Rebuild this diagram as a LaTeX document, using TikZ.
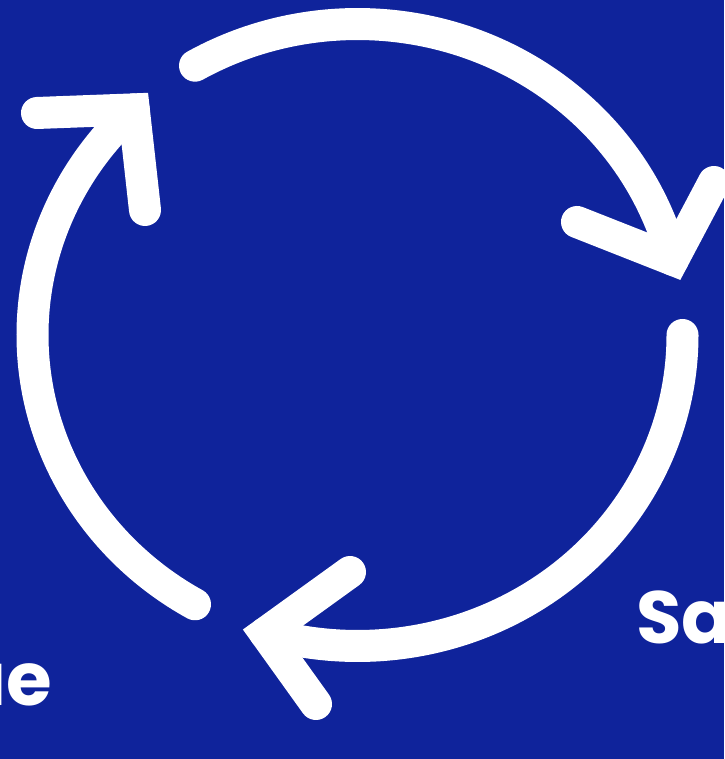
\documentclass[tikz,border=0pt]{standalone}
\usepackage{fontspec}
\setmainfont{Poppins}
\definecolor{bgblue}{RGB}{15,35,155}
\begin{document}
\begin{tikzpicture}[x=1pt,y=1pt,
  ring/.style={draw=white,line width=32pt,line cap=round,line join=miter},
  label/.style={text=white,font=\fontsize{74}{74}\selectfont\bfseries,inner sep=0pt}]
\useasboundingbox (0,0) rectangle (724,759);
\clip (0,0) rectangle (724,759);
\fill[bgblue] (0,0) rectangle (724,759);
% arc 1 (top) with arrowhead on the right
\draw[ring] (195,693.3) coordinate (s1) arc[start angle=120,end angle=14,x radius=325,y radius=311] coordinate (t1);
\coordinate (a1) at (577,537);
\coordinate (b1) at (714,577);
\draw[ring] (a1) -- (t1) -- (b1);
% arc 2 (right/bottom) with arrowhead at bottom left
\draw[ring] (682.5,424) coordinate (s2) arc[start angle=0,end angle=-106.5,x radius=325,y radius=311] coordinate (t2);
\coordinate (a2) at (350,187);
\coordinate (b2) at (316,55);
\draw[ring] (a2) -- (t2) -- (b2);
% arc 3 (left) with arrowhead at top left
\draw[ring] (195,154.7) coordinate (s3) arc[start angle=240,end angle=133.5,x radius=325,y radius=311] coordinate (t3);
\coordinate (a3) at (37,646);
\coordinate (b3) at (145,549);
\draw[ring] (a3) -- (t3) -- (b3);
% labels
\node[label,anchor=base west] (sa) at (636,115) {Sa};
\node[label,anchor=base east] (ue) at (52,53) {ue};
\end{tikzpicture}
\end{document}
